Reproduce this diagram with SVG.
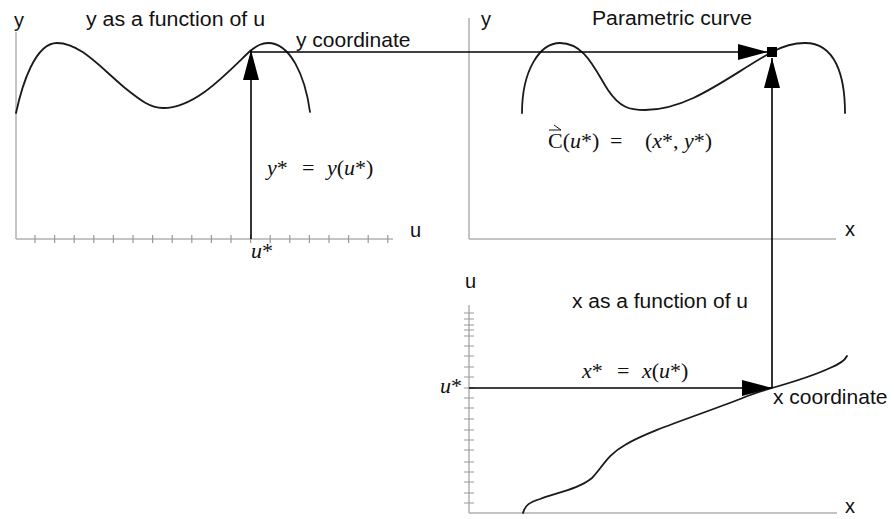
<svg xmlns="http://www.w3.org/2000/svg" width="894" height="519" viewBox="0 0 894 519">
<style>
  .axis { stroke: #b0b0b0; stroke-width: 1.5; fill: none; }
  .tick { stroke: #999999; stroke-width: 1.2; fill: none; }
  .curve { stroke: #1a1a1a; stroke-width: 1.8; fill: none; stroke-linecap: round; }
  .conn { stroke: #000000; stroke-width: 1.6; fill: none; marker-end: url(#ah); }
  .lbl { font-family: "Liberation Sans", Arial, Helvetica, sans-serif; font-size: 20px; fill: #111111; }
  .math { font-family: "Liberation Serif", "Times New Roman", serif; font-size: 22px; fill: #111111; }
  .it { font-style: italic; }
</style>
<defs>
  <marker id="ah" viewBox="0 0 30 16" refX="30" refY="8" markerWidth="30" markerHeight="16" markerUnits="userSpaceOnUse" orient="auto">
    <path d="M0,0 L30,8 L0,16 z" fill="#000000"/>
  </marker>
</defs>

<g id="panel-y-of-u">
  <line class="axis" x1="16" y1="32" x2="16" y2="239"/>
  <line class="axis" x1="16" y1="239" x2="393" y2="239"/>
  <path class="tick" d="M35,235v8 M54.6,235v8 M74.2,235v8 M93.8,235v8 M113.4,235v8 M133,235v8 M152.6,235v8 M172.2,235v8 M191.8,235v8 M211.4,235v8 M231,235v8 M250.6,235v8 M270.2,235v8 M289.8,235v8 M309.4,235v8 M329,235v8 M348.6,235v8 M368.2,235v8 M387.8,235v8"/>
  <path class="curve" d="M16,113 C22,85 35,43 57,43 C80,43 100,67 125,88 C140,100 150,108 163,108 C195,108 225,75 250,51 C258,45 262,43 268,43 C290,43 305,75 310,112"/>
  <text class="lbl" x="14" y="27">y</text>
  <text class="lbl" x="86" y="26" textLength="179" lengthAdjust="spacingAndGlyphs">y as a function of u</text>
  <text class="lbl" x="410" y="237">u</text>
  <text class="math" x="251" y="258"><tspan class="it">u</tspan>*</text>
  <text class="math" y="175"><tspan x="267" class="it">y</tspan>* <tspan x="302">=</tspan> <tspan x="327" class="it">y</tspan>(<tspan class="it">u</tspan>*)</text>
</g>

<g id="panel-parametric">
  <line class="axis" x1="469" y1="18" x2="469" y2="239"/>
  <line class="axis" x1="469" y1="239" x2="836" y2="239"/>
  <path class="curve" d="M522,113 C522,70 540,43 560,43 C585,43 595,70 608,90 C620,108 630,110 645,110 C690,110 730,75 772,52 C785,45 795,43 805,43 C835,43 845,75 845,113"/>
  <text class="lbl" x="481" y="26">y</text>
  <text class="lbl" x="592" y="25" textLength="160" lengthAdjust="spacingAndGlyphs">Parametric curve</text>
  <text class="lbl" x="845" y="236">x</text>
  <path d="M549,130 L561,130 M554,125 L561,130" stroke="#111111" stroke-width="1" fill="none"/>
  <text class="math" y="148"><tspan x="548">C(</tspan><tspan class="it">u</tspan>*) <tspan x="610">=</tspan> <tspan x="645">(</tspan><tspan class="it">x</tspan>*, <tspan class="it">y</tspan>*)</text>
</g>

<g id="panel-x-of-u">
  <line class="axis" x1="469" y1="305" x2="469" y2="513"/>
  <line class="axis" x1="469" y1="513" x2="837" y2="513"/>
  <path class="tick" d="M464,313h10 M464,319h10 M464,325h10 M464,330h10 M464,336h10 M464,346h10 M464,356h10 M464,367h10 M464,377h10 M464,388h10 M464,398h10 M464,408h10 M464,419h10 M464,430h10 M464,440h10 M464,450h10 M464,462h10 M464,472h10 M464,482h10 M464,493h10 M464,503h10"/>
  <path class="curve" d="M523,513 C525,505 530,502 540,499 C560,492 580,488 592,478 C602,468 607,455 625,445 C650,430 700,415 745,397 C755,393 762,391 772,388 C800,380 815,375 830,368 C840,364 845,360 847,356"/>
  <text class="lbl" x="465" y="288">u</text>
  <text class="lbl" x="572" y="308" textLength="176" lengthAdjust="spacingAndGlyphs">x as a function of u</text>
  <text class="lbl" x="845" y="513">x</text>
  <text class="math" x="462" y="393" text-anchor="end"><tspan class="it">u</tspan>*</text>
  <text class="math" y="378"><tspan x="582" class="it">x</tspan>* <tspan x="617">=</tspan> <tspan x="642" class="it">x</tspan>(<tspan class="it">u</tspan>*)</text>
</g>

<g id="connectors">
  <line class="conn" x1="251" y1="239" x2="251" y2="50"/>
  <line class="conn" x1="251" y1="52" x2="768" y2="52"/>
  <line class="conn" x1="469" y1="388" x2="772" y2="388"/>
  <line class="conn" x1="772" y1="388" x2="772" y2="58"/>
  <rect x="767" y="47" width="10" height="10" fill="#000000"/>
  <text class="lbl" x="296" y="47" style="font-size:21px">y coordinate</text>
  <text class="lbl" x="773" y="404" style="font-size:21px">x coordinate</text>
</g>
</svg>
